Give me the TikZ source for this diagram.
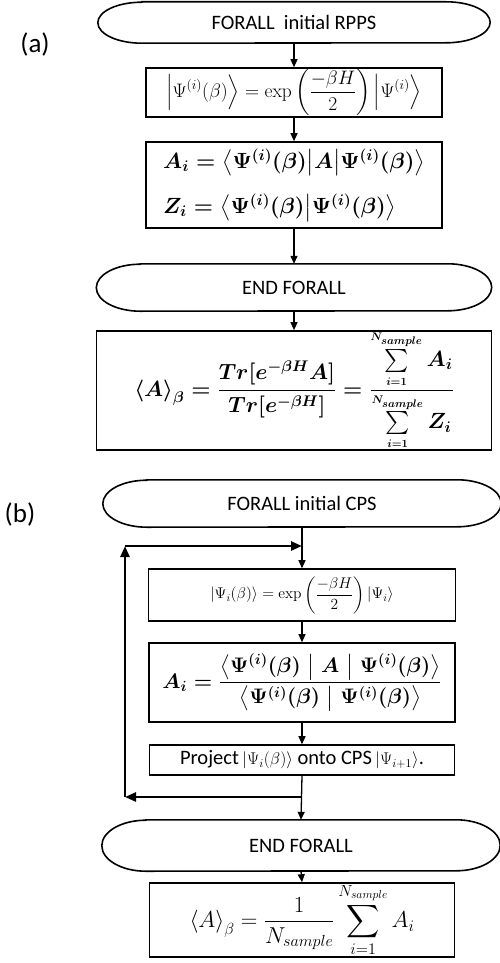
\documentclass[tikz,border=0pt]{standalone}
\usepackage{fix-cm}
\DeclareFontShape{OMX}{cmex}{m}{n}{<->cmex10}{}
\usepackage[no-math]{fontspec}
\setmainfont{Carlito}
\usetikzlibrary{arrows.meta}
\newcommand\fs[1]{\fontsize{#1}{#1}\selectfont}
\newcommand\bsum{\mathop{\hbox{\fs{23}$\textstyle\sum$}}\limits}
% terminator outline: node name, x radius, y radius
\newcommand\termshape[3]{%
  \draw[line width=1.6pt] ([xshift=#2]#1.north west) -- ([xshift=-#2]#1.north east)
    arc[start angle=90,end angle=-90,x radius=#2,y radius=#3]
    -- ([xshift=#2]#1.south west)
    arc[start angle=270,end angle=90,x radius=#2,y radius=#3] -- cycle;}
\begin{document}
\begin{tikzpicture}[x=1pt,y=-1pt,
  box/.style={draw,line width=1.6pt,inner sep=0pt,anchor=center},
  term/.style={inner sep=0pt,anchor=center,font=\fs{20.5}},
  arr/.style={line width=1.3pt,-{Triangle[length=8pt,width=7pt]}},
  looparr/.style={line width=2.4pt,-{Triangle[length=11pt,width=9pt]}},
  lbl/.style={font=\fs{27}}
]
\useasboundingbox (0,0) rectangle (500,963);

% ---------- (a) ----------
\node[lbl] (la) at (35,44) {(a)};
\node[term,minimum width=392pt,minimum height=41pt] (e1) at (294,22.5) {FORALL\ \ initial RPPS};
\termshape{e1}{44pt}{20.5pt}
\node[box,minimum width=296pt,minimum height=49pt,font=\fs{19.5}] (b1) at (294,92.5)
  {$\displaystyle\left|\Psi^{(i)}(\beta)\right\rangle=\exp\left(\frac{-\beta H}{2}\right)\left|\Psi^{(i)}\vphantom{(\beta)}\right\rangle$};
\node[box,minimum width=296pt,minimum height=86pt,align=left,font={\fs{22}\boldmath}] (b2) at (294,185)
  {$A_i=\left\langle\Psi^{(i)}(\beta)\middle|A\middle|\Psi^{(i)}(\beta)\right\rangle$\\[17pt]
   $Z_i=\left\langle\Psi^{(i)}(\beta)\middle|\Psi^{(i)}(\beta)\right\rangle$};
\node[term,minimum width=395pt,minimum height=47pt] (e2) at (294,287.5) {END FORALL};
\termshape{e2}{44pt}{23.5pt}
\node[box,minimum width=395pt,minimum height=113pt,font={\fs{22}\boldmath}] (b3) at (294,390.5)
  {$\displaystyle\left\langle A\right\rangle_{\beta}=\frac{Tr[e^{-\beta H}A]}{Tr[e^{-\beta H}]}
   =\frac{\bsum_{\scriptscriptstyle i=1}^{\scriptscriptstyle N_{sample}}A_i}
          {\bsum_{\scriptscriptstyle i=1}^{\scriptscriptstyle N_{sample}}Z_i}$};

\draw[arr] (e1.south) -- (b1.north);
\draw[arr] (b1.south) -- (b2.north);
\draw[arr] (b2.south) -- (e2.north);
\draw[arr] (e2.south) -- (b3.north);

% ---------- (b) ----------
\node[lbl] (lb) at (20,514) {(b)};
\node[term,minimum width=398pt,minimum height=47pt] (e3) at (302,503.5) {FORALL initial CPS};
\termshape{e3}{44pt}{23.5pt}
\node[box,minimum width=307pt,minimum height=52pt,font=\fs{15.5}] (b4) at (302,595)
  {$\displaystyle\left|\Psi_i(\beta)\right\rangle=\exp\left(\frac{-\beta H}{2}\right)\left|\Psi_i\vphantom{(\beta)}\right\rangle$};
\node[box,minimum width=306pt,minimum height=79pt,font={\fs{21}\boldmath}] (b5) at (302,682.5)
  {$\displaystyle A_i=\frac{\left\langle\Psi^{(i)}(\beta)\;\middle|\;A\;\middle|\;\Psi^{(i)}(\beta)\right\rangle}
   {\left\langle\Psi^{(i)}(\beta)\;\middle|\;\Psi^{(i)}(\beta)\right\rangle}$};
\node[box,minimum width=305pt,minimum height=30pt,font=\fs{20.5}] (b6) at (302,760)
  {Project\,{\fs{17}$\left|\Psi_i(\beta)\right\rangle$} onto CPS\,{\fs{17}$\left|\Psi_{i+1}\vphantom{(\beta)}\right\rangle$}.};
\node[term,minimum width=398pt,minimum height=51pt] (e4) at (301,845.5) {END FORALL};
\termshape{e4}{44pt}{25.5pt}
\node[box,minimum width=305pt,minimum height=70pt,font=\fs{23}] (b7) at (302,920)
  {$\displaystyle\left\langle A\right\rangle_{\beta}=\frac{1}{N_{sample}}\sum_{i=1}^{N_{sample}}A_i$};

\coordinate (ja) at (302,546);
\coordinate (jb) at (302,797);
\coordinate (lt) at (125,546);
\coordinate (lbc) at (125,797);

\draw[arr] (e3.south) -- (b4.north);
\draw[arr] (b4.south) -- (b5.north);
\draw[arr] (b5.south) -- (b6.north);
\draw[arr] (b6.south) -- (e4.north);
\draw[arr] (e4.south) -- (b7.north);
\draw[looparr] (jb) -- (lbc);
\draw[looparr] (lbc) -- (lt);
\draw[looparr] (lt) -- (ja);
\end{tikzpicture}
\end{document}
